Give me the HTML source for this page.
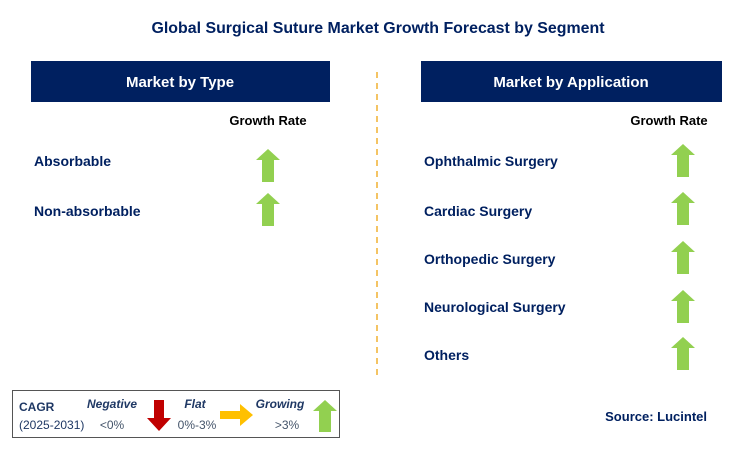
<!DOCTYPE html>
<html><head><meta charset="utf-8"><style>
body{margin:0;background:#fff;}
svg text{font-family:"Liberation Sans",sans-serif;}
</style></head><body>
<svg width="733" height="455" viewBox="0 0 733 455" xmlns="http://www.w3.org/2000/svg">
<defs>
<symbol id="up" viewBox="0 0 24 33"><polygon points="12,0 24,11 18,11 18,33 6,33 6,11 0,11" fill="#92d050"/></symbol>
</defs>
<text x="378" y="33" text-anchor="middle" font-size="16" font-weight="bold" fill="#002060" textLength="453" lengthAdjust="spacingAndGlyphs">Global Surgical Suture Market Growth Forecast by Segment</text>

<rect x="31" y="61" width="299" height="41" fill="#002060"/>
<text x="180" y="87" text-anchor="middle" font-size="15" font-weight="bold" fill="#fff">Market by Type</text>
<rect x="421" y="61" width="301" height="41" fill="#002060"/>
<text x="571" y="87" text-anchor="middle" font-size="15" font-weight="bold" fill="#fff">Market by Application</text>

<line x1="377" y1="72" x2="377" y2="380" stroke="#f0b030" stroke-width="1.5" stroke-dasharray="6,5"/>

<text x="268" y="125" text-anchor="middle" font-size="13" font-weight="bold" fill="#000">Growth Rate</text>
<text x="669" y="125" text-anchor="middle" font-size="13" font-weight="bold" fill="#000">Growth Rate</text>

<g font-size="14" font-weight="bold" fill="#002060">
<text x="34" y="166">Absorbable</text>
<text x="34" y="216">Non-absorbable</text>
<text x="424" y="166">Ophthalmic Surgery</text>
<text x="424" y="216">Cardiac Surgery</text>
<text x="424" y="264">Orthopedic Surgery</text>
<text x="424" y="312">Neurological Surgery</text>
<text x="424" y="360">Others</text>
</g>

<use href="#up" x="256" y="149" width="24" height="33"/>
<use href="#up" x="256" y="193" width="24" height="33"/>
<use href="#up" x="671" y="144" width="24" height="33"/>
<use href="#up" x="671" y="192" width="24" height="33"/>
<use href="#up" x="671" y="241" width="24" height="33"/>
<use href="#up" x="671" y="290" width="24" height="33"/>
<use href="#up" x="671" y="337" width="24" height="33"/>

<g>
<rect x="12.5" y="390.5" width="327" height="47" fill="#fff" stroke="#555" stroke-width="1"/>
<text x="19" y="411" font-size="12" font-weight="bold" fill="#1f3864">CAGR</text>
<text x="19" y="429" font-size="12" fill="#1f3864">(2025-2031)</text>
<text x="112" y="408" text-anchor="middle" font-size="12" font-weight="bold" font-style="italic" fill="#1f3864">Negative</text>
<text x="112" y="429" text-anchor="middle" font-size="12" fill="#44546a">&lt;0%</text>
<polygon points="154,400 164,400 164,418 171,418 159,431 147,418 154,418" fill="#c00000"/>
<text x="195" y="408" text-anchor="middle" font-size="12" font-weight="bold" font-style="italic" fill="#1f3864">Flat</text>
<text x="197" y="429" text-anchor="middle" font-size="12" fill="#44546a">0%-3%</text>
<polygon points="220,411 240,411 240,404 253,415 240,426 240,419 220,419" fill="#ffc000"/>
<text x="280" y="408" text-anchor="middle" font-size="12" font-weight="bold" font-style="italic" fill="#1f3864">Growing</text>
<text x="287" y="429" text-anchor="middle" font-size="12" fill="#44546a">&gt;3%</text>
<polygon points="325,400 337,411 331,411 331,432 319,432 319,411 313,411" fill="#92d050"/>
</g>

<text x="707" y="421" text-anchor="end" font-size="13" font-weight="bold" fill="#002060">Source: Lucintel</text>
</svg>
</body></html>
